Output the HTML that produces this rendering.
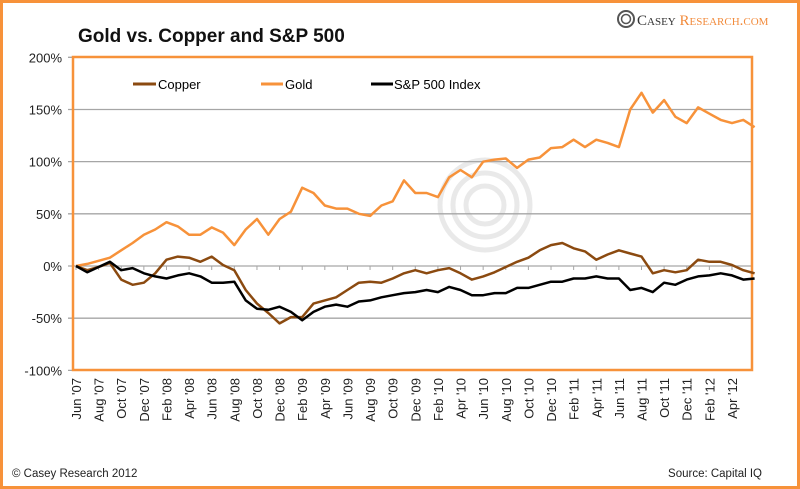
<!DOCTYPE html>
<html><head><meta charset="utf-8"><style>
html,body{margin:0;padding:0;background:#fff}
svg{display:block;font-family:"Liberation Sans",sans-serif}
</style></head><body>
<svg width="800" height="489" viewBox="0 0 800 489">
<rect x="1.5" y="1.5" width="797" height="486" fill="#fff" stroke="#f7923a" stroke-width="3"/>
<text x="78" y="42" font-size="19" font-weight="bold" fill="#111">Gold vs. Copper and S&amp;P 500</text>
<g>
<circle cx="626" cy="19" r="8" fill="none" stroke="#555" stroke-width="2"/>
<circle cx="626" cy="19" r="4.5" fill="none" stroke="#555" stroke-width="1.5"/>
<text x="637" y="25" font-family="Liberation Serif,serif" font-size="15" fill="#333">C<tspan font-size="11">ASEY</tspan> <tspan fill="#f28b3c">R<tspan font-size="11">ESEARCH</tspan>.<tspan font-size="11">COM</tspan></tspan></text>
</g>
<g id="wm" opacity="0.18" fill="none" stroke="#888" stroke-width="5">
<circle cx="485" cy="205" r="45"/><circle cx="485" cy="205" r="32"/><circle cx="485" cy="205" r="19"/>
</g>
<g id="grid"></g>
<rect x="73" y="57" width="679" height="313" fill="none" stroke="#f7923a" stroke-width="2.5"/>
<g id="ylab"></g><g id="xlab"></g><g id="lines"></g>
<g>
<g><line x1="133" y1="84" x2="156" y2="84" stroke="#8b4a10" stroke-width="3"/><text x="158" y="89" font-size="13">Copper</text></g>
<g><line x1="261" y1="84" x2="283" y2="84" stroke="#f7923a" stroke-width="3"/><text x="285" y="89" font-size="13">Gold</text></g>
<g><line x1="371" y1="84" x2="393" y2="84" stroke="#000" stroke-width="3"/><text x="394" y="89" font-size="13">S&amp;P 500 Index</text></g>
</g>
<text x="12" y="477" font-size="11.5" fill="#222">© Casey Research 2012</text>
<text x="762" y="477" font-size="11.5" fill="#222" text-anchor="end">Source: Capital IQ</text>
</svg>
<script>
const xLabels=["Jun '07","Aug '07","Oct '07","Dec '07","Feb '08","Apr '08","Jun '08","Aug '08","Oct '08","Dec '08","Feb '09","Apr '09","Jun '09","Aug '09","Oct '09","Dec '09","Feb '10","Apr '10","Jun '10","Aug '10","Oct '10","Dec '10","Feb '11","Apr '11","Jun '11","Aug '11","Oct '11","Dec '11","Feb '12","Apr '12"];
const yTicks=[200,150,100,50,0,-50,-100];
const gold=[0,2,5,8,15,22,30,35,42,38,30,30,37,32,20,35,45,30,45,52,75,70,58,55,55,50,48,58,62,82,70,70,66,85,92,85,100,102,103,94,102,104,113,114,121,114,121,118,114,150,166,147,159,143,137,152,146,140,137,140,133];
const copper=[0,-4,-1,3,-13,-18,-16,-7,6,9,8,4,9,1,-4,-23,-36,-45,-55,-49,-49,-36,-33,-30,-23,-16,-15,-16,-12,-7,-4,-7,-4,-2,-7,-13,-10,-6,-1,4,8,15,20,22,17,14,6,11,15,12,9,-7,-4,-6,-4,6,4,4,1,-4,-7];
const sp500=[0,-6,-1,4,-4,-2,-7,-10,-12,-9,-7,-10,-16,-16,-15,-33,-41,-42,-39,-44,-52,-44,-39,-37,-39,-34,-33,-30,-28,-26,-25,-23,-25,-20,-23,-28,-28,-26,-26,-21,-21,-18,-15,-15,-12,-12,-10,-12,-12,-23,-21,-25,-16,-18,-13,-10,-9,-7,-9,-13,-12];
const NS="http://www.w3.org/2000/svg";
const xS=m=>76+m*11.31;
const yS=v=>266-(v/50)*52.17;
function mk(t,a,p){const e=document.createElementNS(NS,t);for(const k in a)e.setAttribute(k,a[k]);p.appendChild(e);return e;}
const grid=document.getElementById('grid'),yl=document.getElementById('ylab'),xl=document.getElementById('xlab'),ln=document.getElementById('lines');
yTicks.forEach(v=>{
 const g=mk('line',{x1:68,x2:752,y1:yS(v),y2:yS(v),stroke:'#a6a6a6','stroke-width':1.3},grid);
 
 
 const t=mk('text',{x:62,y:yS(v)+5,'text-anchor':'end','font-size':13,fill:'#222'},yl);
 t.textContent=v+'%';
 
 
});
xLabels.forEach((s,i)=>{
 const x=xS(i*2);
 const tk=mk('line',{x1:x,x2:x,y1:yS(0),y2:yS(0)+4,stroke:'#a6a6a6','stroke-width':1},grid);
 
 
 const t=mk('text',{x:0,y:0,'text-anchor':'end','font-size':13,fill:'#222',transform:`translate(${x+5},378) rotate(-90)`},xl);
 t.textContent=s;
 
 
});
function line(arr,col,name){
 const d=arr.map((v,i)=>(i?'L':'M')+xS(i).toFixed(1)+','+yS(v).toFixed(1)).join('');
 const p=mk('path',{d:d,fill:'none',stroke:col,'stroke-width':2.5,'stroke-linejoin':'round'},ln);
 
 
}
line(gold,'#f7923a','gold-line');
line(copper,'#8b4a10','copper-line');
line(sp500,'#000','sp500-line');
</script>
</body></html>
